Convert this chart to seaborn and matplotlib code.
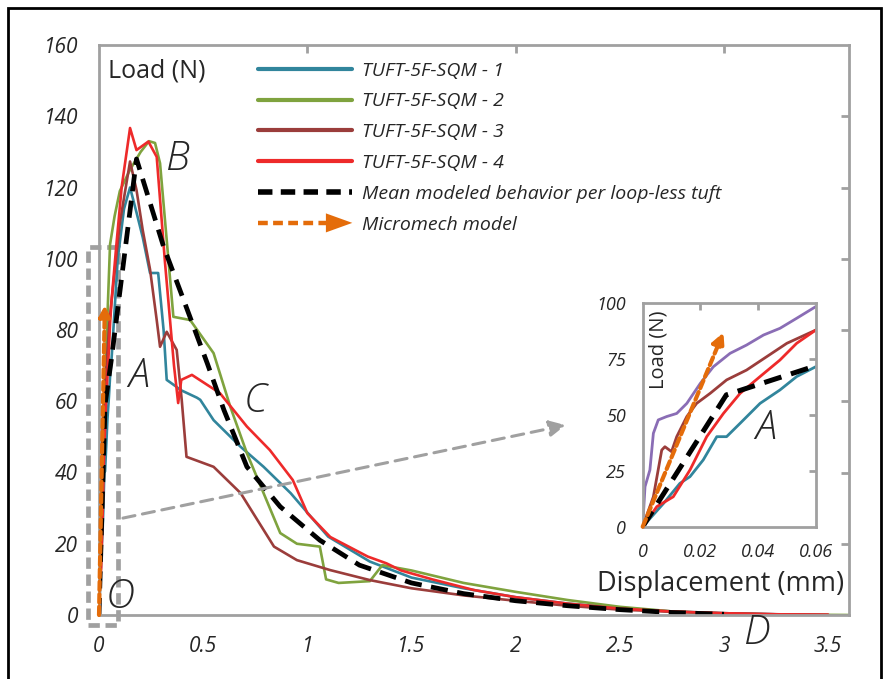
import numpy as np
import pandas as pd
import matplotlib
matplotlib.use("Agg")
import matplotlib.pyplot as plt
import seaborn as sns
from matplotlib.lines import Line2D
from matplotlib.patches import Polygon, Rectangle
from matplotlib.legend_handler import HandlerBase

# ---- data ----
t1_x = [0, 0.0072, 0.0129, 0.0164, 0.021, 0.0257, 0.0291, 0.0338, 0.0407, 0.0476, 0.0534, 0.06,
        0.09, 0.12, 0.149, 0.18, 0.21, 0.245, 0.284, 0.31, 0.325, 0.373, 0.39, 0.47, 0.486, 0.55,
        0.68, 0.79, 0.92, 1.03, 1.1, 1.3, 1.5, 1.75, 2.0, 2.25, 2.5, 2.75, 3.0, 3.25, 3.5]
t1_y = [0, 10.4, 19.4, 22.4, 29.9, 40.3, 40.3, 46.3, 55.2, 61.2, 67.2, 71.6,
        100, 114, 120, 113, 106, 96, 96, 80, 66, 64, 63.2, 61, 60.4, 54.7,
        47.2, 41.6, 34.2, 26.7, 22, 15, 10.5, 7.5, 5, 3.2, 2, 1, 0.5, 0.2, 0]

t2_x = [0, 0.02, 0.035, 0.053, 0.075, 0.1, 0.149, 0.2, 0.24, 0.269, 0.293, 0.357, 0.4375,
        0.55, 0.63, 0.71, 0.79, 0.87, 0.95, 1.06, 1.09, 1.15, 1.3, 1.36, 1.5, 1.75, 2.0, 2.25,
        2.5, 2.75, 3.0, 3.3, 3.6]
t2_y = [0, 45, 75, 104, 112, 119, 125, 130, 133, 132.5, 126.8, 83.7, 82.8,
        73.5, 58.5, 45.4, 34.2, 23, 20, 19.2, 10, 9, 9.5, 14, 12.5, 9, 6.5, 4.2,
        2.3, 1, 0.4, 0.1, 0]

t3_x = [0, 0.0037, 0.0066, 0.0077, 0.01, 0.0118, 0.0153, 0.0187, 0.0234, 0.0291, 0.036, 0.043,
        0.05, 0.06, 0.1, 0.149, 0.18, 0.21, 0.245, 0.277, 0.293, 0.325, 0.373, 0.397, 0.42,
        0.55, 0.68, 0.76, 0.84, 0.95, 1.11, 1.3, 1.5, 1.75, 2.0, 2.25, 2.5, 2.75, 3.0, 3.25, 3.5]
t3_y = [0, 13.4, 34.3, 35.8, 33.6, 40.3, 49.3, 55.2, 59.7, 65.7, 70.1, 76.1,
        82.1, 88, 110, 127.3, 119.3, 108, 97, 82.8, 75.3, 79.5, 74.4, 60.4, 44.4,
        41.6, 34.2, 26.7, 19.2, 15.4, 12.6, 9.8, 7.5, 5.5, 4, 2.6, 1.5, 0.9, 0.5, 0.2, 0]

t4_x = [0, 0.0049, 0.0106, 0.0164, 0.0222, 0.028, 0.0338, 0.0407, 0.0476, 0.0534, 0.06, 0.082,
        0.109, 0.149, 0.18, 0.237, 0.277, 0.317, 0.36, 0.38, 0.395, 0.446, 0.58, 0.71, 0.82,
        0.93, 1.0, 1.11, 1.29, 1.38, 1.45, 1.6, 1.8, 2.0, 2.25, 2.5, 2.75, 3.0, 3.25, 3.5]
t4_y = [0, 9, 13.4, 25.4, 40.3, 50.7, 59.7, 67.2, 74.6, 82.1, 88, 103,
        120.2, 136.7, 130.5, 132.9, 128.6, 98.8, 70, 59.5, 66, 67.4, 62.3, 52.9, 46.3,
        37.9, 28.6, 21.9, 16.4, 14.5, 12.5, 10, 7, 5, 3.2, 1.8, 1, 0.5, 0.2, 0.1]

mean_x = [0, 0.029, 0.06, 0.18, 0.31, 0.40, 0.52, 0.60, 0.71, 0.87, 1.06, 1.25, 1.5, 1.75,
          2.0, 2.25, 2.5, 2.75, 3.0]
mean_y = [0, 59, 72, 128, 103.4, 89.4, 70.6, 57.5, 41.6, 30.4, 21, 14, 9, 6,
          4, 2.6, 1.5, 0.7, 0.2]

# extra specimen shown only in the zoomed inset
t5_x = [0, 0.0008, 0.0025, 0.0037, 0.0054, 0.0083, 0.0118, 0.0153, 0.02, 0.0245, 0.0303,
        0.036, 0.0419, 0.0476, 0.0534, 0.06]
t5_y = [0, 17.9, 25.4, 41.8, 47.8, 49.3, 50.7, 55.2, 64.2, 71.6, 77.6,
        81.3, 85.8, 88.8, 93.3, 98.5]

micro_x = [0, 0.028]
micro_y = [0, 87]

labels = ["TUFT-5F-SQM - 1", "TUFT-5F-SQM - 2", "TUFT-5F-SQM - 3", "TUFT-5F-SQM - 4"]
colors = ["#31859C", "#7FA33E", "#9B3D3B", "#EE2A2A"]
purple = "#8A6DB5"
orange = "#E46C0A"
gray = "#A0A0A0"

curves = [(t1_x, t1_y), (t2_x, t2_y), (t3_x, t3_y), (t4_x, t4_y)]

sns.set_style("white")
plt.rcParams['font.family'] = ['Open Sans', 'DejaVu Sans']

fig = plt.figure(figsize=(8.89, 6.79), dpi=100)
W, H = 889, 679
ax = fig.add_axes([99 / W, 1 - 615 / H, 750 / W, 570 / H])


class ArrowHandler(HandlerBase):
    def create_artists(self, legend, orig_handle, xdescent, ydescent, width, height, fontsize, trans):
        y = height / 2 - ydescent
        x0 = -xdescent
        line = Line2D([x0, x0 + width * 0.75], [y, y], color=orange, lw=3.2,
                      dashes=(2.2, 1.2), solid_capstyle='butt')
        head = Polygon([[x0 + width * 0.72, y + height * 0.7], [x0 + width, y],
                        [x0 + width * 0.72, y - height * 0.7]], closed=True, color=orange, lw=0)
        line.set_transform(trans)
        head.set_transform(trans)
        return [line, head]


def draw(a, lw, which):
    for i in which:
        xs, ys = curves[i]
        df = pd.DataFrame({"x": xs, "y": ys})
        sns.lineplot(data=df, x="x", y="y", ax=a, color=colors[i], lw=lw, sort=False,
                     estimator=None, label=labels[i])
    dfm = pd.DataFrame({"x": mean_x, "y": mean_y})
    sns.lineplot(data=dfm, x="x", y="y", ax=a, color="black", lw=lw * 1.8, sort=False,
                 estimator=None, label="mean")
    a.lines[-1].set_dashes((3.6, 2.0))


draw(ax, 1.9, [0, 1, 2, 3])
ax.annotate("", xy=(micro_x[1], micro_y[1]), xytext=(micro_x[0], micro_y[0]),
            arrowprops=dict(arrowstyle="-|>", color=orange, lw=3, ls=(0, (2, 1)),
                            mutation_scale=16, shrinkA=0, shrinkB=0), zorder=5)

ax.set_xlim(0, 3.6)
ax.set_ylim(0, 160)
ax.set_xticks([0, 0.5, 1, 1.5, 2, 2.5, 3, 3.5])
ax.set_xticklabels(["0", "0.5", "1", "1.5", "2", "2.5", "3", "3.5"], fontsize=15, fontstyle="italic")
ax.set_yticks(range(0, 161, 20))
ax.set_yticklabels([str(v) for v in range(0, 161, 20)], fontsize=15, fontstyle="italic")
ax.set_xlabel("")
ax.set_ylabel("")
for s in ax.spines.values():
    s.set_color(gray)
    s.set_linewidth(2)
ax.tick_params(axis="both", direction="out", length=6, width=2, color=gray, pad=9)
sec_x = ax.secondary_xaxis("top")
sec_x.set_xticks([1, 2, 3])
sec_x.tick_params(direction="in", length=6, width=2, color=gray, labeltop=False)
sec_x.spines["top"].set_visible(False)
sec_y = ax.secondary_yaxis("right")
sec_y.set_yticks(range(20, 160, 20))
sec_y.tick_params(direction="in", length=6, width=2, color=gray, labelright=False)
sec_y.spines["right"].set_visible(False)

# legend
handles = [Line2D([], [], color=c, lw=3) for c in colors]
handles.append(Line2D([], [], color="black", lw=4, dashes=(2.6, 1.5)))
handles.append(object())
leg_labels = labels + ["Mean modeled behavior per loop-less tuft", "Micromech model"]
leg = ax.legend(handles, leg_labels, loc="upper left", bbox_to_anchor=(0.212, 0.971),
                frameon=False, handlelength=4.85, handletextpad=0.5, labelspacing=0.66,
                borderpad=0, borderaxespad=0, prop=dict(size=14, style="italic"),
                handler_map={object: ArrowHandler()})
leg.set_zorder(10)

# region box and pointer
ax.add_patch(Rectangle((-0.053, -2.8), 0.143, 106, fill=False, ec=gray, lw=3.4,
                       ls=(0, (2.4, 1.2)), clip_on=False, zorder=1))
ax.annotate("", xy=(2.24, 53.3), xytext=(0.115, 27.2),
            arrowprops=dict(arrowstyle="-|>", color=gray, lw=2.2, ls=(0, (4, 2.5)),
                            mutation_scale=24, shrinkA=0, shrinkB=0))

ax.text(0.012, 0.955, "Load (N)", transform=ax.transAxes, fontsize=18, va="center", ha="left")
big = dict(fontsize=29, fontstyle="italic", fontweight="light", ha="center", va="center")
ax.text(0.38, 128, "B", **big)
ax.text(0.19, 67, "A", **big)
ax.text(0.75, 60, "C", **big)
ax.text(0.1, 5, "O", **big)
ax.text(3.16, -5, "D", clip_on=False, **big)
ax.text(0.993, 0.055, "Displacement (mm)", transform=ax.transAxes, fontsize=19.5,
        ha="right", va="center")

# inset
ins = fig.add_axes([642.7 / W, 1 - 526.7 / H, 173 / W, 223.4 / H])
sns.lineplot(x=t5_x, y=t5_y, ax=ins, color=purple, lw=2, sort=False, estimator=None)
draw(ins, 2, [0, 2, 3])
ins.annotate("", xy=(micro_x[1], micro_y[1]), xytext=(micro_x[0], micro_y[0]),
             arrowprops=dict(arrowstyle="-|>", color=orange, lw=3, ls=(0, (2, 1)),
                             mutation_scale=18, shrinkA=0, shrinkB=0), zorder=5)
ins.get_legend().remove()
ins.set_xlim(0, 0.06)
ins.set_ylim(0, 100)
ins.set_xticks([0, 0.02, 0.04, 0.06])
ins.set_xticklabels(["0", "0.02", "0.04", "0.06"], fontsize=13, fontstyle="italic")
ins.set_yticks([0, 25, 50, 75, 100])
ins.set_yticklabels(["0", "25", "50", "75", "100"], fontsize=13, fontstyle="italic")
ins.set_xlabel("")
ins.set_ylabel("")
for s in ins.spines.values():
    s.set_color(gray)
    s.set_linewidth(2)
ins.tick_params(axis="both", direction="out", length=5, width=2, color=gray, pad=7)
s2x = ins.secondary_xaxis("top")
s2x.set_xticks([0.02, 0.04])
s2x.tick_params(direction="in", length=5, width=2, color=gray, labeltop=False)
s2x.spines["top"].set_visible(False)
s2y = ins.secondary_yaxis("right")
s2y.set_yticks([25, 50, 75])
s2y.tick_params(direction="in", length=5, width=2, color=gray, labelright=False)
s2y.spines["right"].set_visible(False)
ins.text(0.09, 0.79, "Load (N)", transform=ins.transAxes, rotation=90, fontsize=14.5,
         ha="center", va="center")
ins.text(0.0425, 44, "A", **big)

# outer frame
fig.patches.append(Rectangle((8 / W, -0.05), 873 / W, 1 - 8 / H + 0.05, transform=fig.transFigure,
                             fill=False, ec="black", lw=2))

fig.savefig("out.png", dpi=100)
